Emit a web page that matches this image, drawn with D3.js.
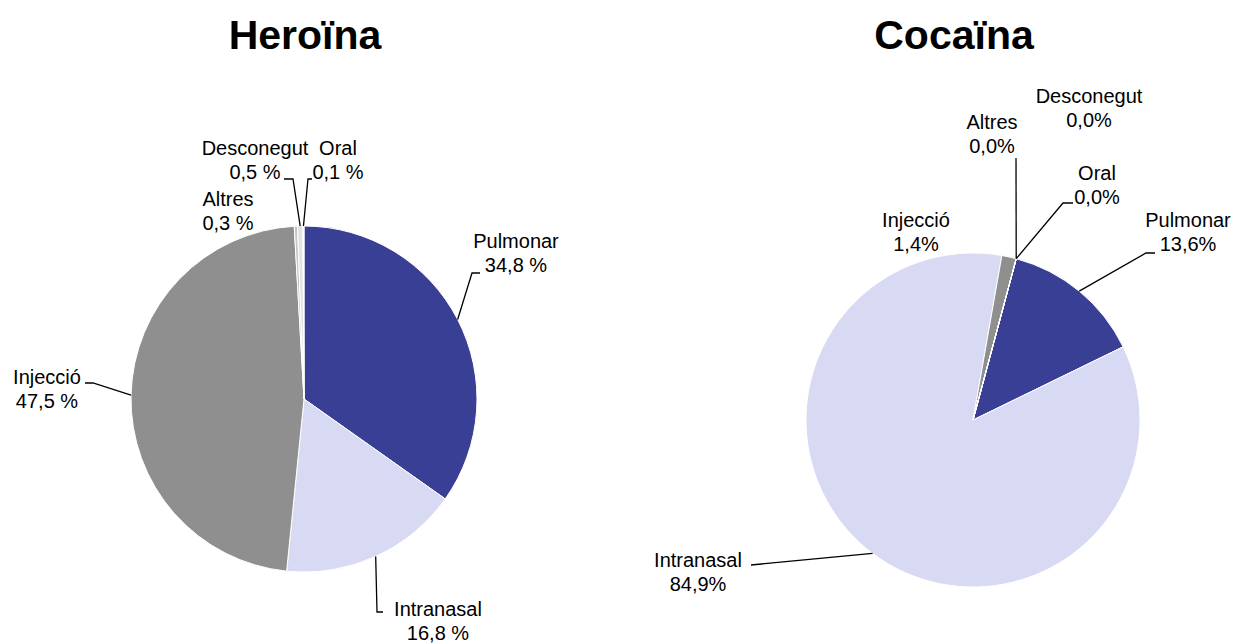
<!DOCTYPE html>
<html>
<head>
<meta charset="utf-8">
<script src="https://cdn.jsdelivr.net/npm/d3@7"></script>
<style>
  body { margin: 0; background: #fff; }
  text { font-family: "Liberation Sans", Arial, sans-serif; fill: #000; }
</style>
</head>
<body>
<div id="chart"></div>
<script>
// data
const categories = ["Pulmonar", "Intranasal", "Injecció", "Altres", "Desconegut", "Oral"]
const heroinaValues = [34.8, 16.8, 47.5, 0.3, 0.5, 0.1]
const cocainaValues = [13.6, 84.9, 1.4, 0.0, 0.0, 0.0]
const heroinaLabels = ["34,8 %", "16,8 %", "47,5 %", "0,3 %", "0,5 %", "0,1 %"]
const cocainaLabels = ["13,6%", "84,9%", "1,4%", "0,0%", "0,0%", "0,0%"]
const titles = ["Heroïna", "Cocaïna"]
const colors = ["#3A3F96", "#D8D9F2", "#8F8F8F", "#C4C4C4", "#E2E2E2", "#FFFFFF"]

const WIDTH = 1236, HEIGHT = 644

// layout for each pie: centre, radius, first slice angle, label spots
const pies = [
  {
    title: titles[0], values: heroinaValues, labels: heroinaLabels,
    cx: 304, cy: 399, r: 173, start: 0, titleX: 305,
    spots: {
      "Pulmonar":   { x: 516, y: 248, leader: [[472, 273], [480, 273]] },
      "Intranasal": { x: 438, y: 616, leader: [[377, 612], [383, 612]] },
      "Injecció":   { x: 47,  y: 384, leader: [[93, 383], [85, 383]] },
      "Altres":     { x: 228, y: 206, leader: null },
      "Desconegut": { x: 255, y: 155, leader: [[293, 179], [284, 179]] },
      "Oral":       { x: 338, y: 155, leader: [[308, 179], [312, 179]] }
    }
  },
  {
    title: titles[1], values: cocainaValues, labels: cocainaLabels,
    cx: 973, cy: 420, r: 167, start: 15, titleX: 954,
    spots: {
      "Pulmonar":   { x: 1188, y: 227, leader: [[1146, 253], [1155, 253]] },
      "Intranasal": { x: 698,  y: 567, leader: [[751, 565]] },
      "Injecció":   { x: 916,  y: 227, leader: null },
      "Altres":     { x: 992,  y: 129, leader: [[1016, 158]] },
      "Desconegut": { x: 1089, y: 103, leader: null },
      "Oral":       { x: 1097, y: 180, leader: [[1063, 203], [1073, 203]] }
    }
  }
]

const color = d3.scaleOrdinal().domain(categories).range(colors)

const svg = d3.select("#chart")
  .append("svg")
    .attr("width", WIDTH)
    .attr("height", HEIGHT)

pies.forEach(p => {
  const rows = categories.map((c, i) => ({ name: c, val: p.values[i], label: p.labels[i] }))
  const a0 = p.start * Math.PI / 180
  const pie = d3.pie()
    .sort(null)
    .value(d => d.val)
    .startAngle(a0)
    .endAngle(a0 + 2 * Math.PI)
  const arcs = pie(rows)

  const arc = d3.arc().innerRadius(0).outerRadius(p.r)
  const edge = d3.arc().innerRadius(p.r).outerRadius(p.r)

  svg.append("text")
    .attr("x", p.titleX)
    .attr("y", 49)
    .attr("text-anchor", "middle")
    .style("font-size", "41px")
    .style("font-weight", "bold")
    .text(p.title)

  const g = svg.append("g")
    .attr("transform", `translate(${p.cx}, ${p.cy})`)

  g.selectAll("path.slice")
    .data(arcs)
    .enter().append("path")
      .attr("class", "slice")
      .attr("d", arc)
      .attr("fill", d => color(d.data.name))
      .attr("stroke", "#fff")
      .attr("stroke-width", 1)

  // leader lines, start at the slice's outer edge midpoint
  const line = d3.line()
  arcs.forEach(d => {
    const s = p.spots[d.data.name]
    if (!s.leader) return
    const c = edge.centroid(d)
    const pts = [[c[0] + p.cx, c[1] + p.cy]].concat(s.leader)
    svg.append("path")
      .attr("d", line(pts))
      .attr("fill", "none")
      .attr("stroke", "#000")
      .attr("stroke-width", 1.3)
  })

  // labels
  arcs.forEach(d => {
    const s = p.spots[d.data.name]
    const t = svg.append("text")
      .attr("text-anchor", "middle")
      .style("font-size", "20px")
    t.append("tspan").attr("x", s.x).attr("y", s.y).text(d.data.name)
    t.append("tspan").attr("x", s.x).attr("y", s.y + 24).text(d.data.label)
  })
})
</script>
</body>
</html>
